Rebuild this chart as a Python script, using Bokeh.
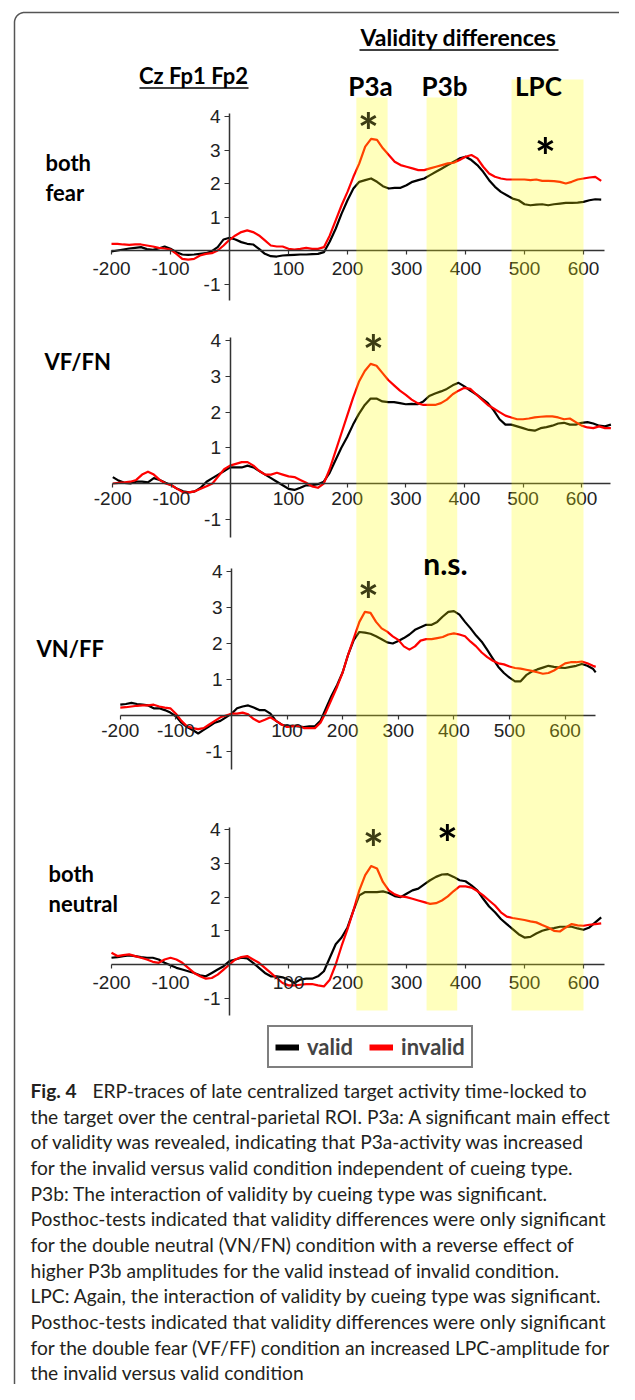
import numpy as np
from bokeh.plotting import figure
from bokeh.models import Range1d, LinearAxis, FixedTicker, Legend, LegendItem
from bokeh.core.properties import value
from bokeh.embed import file_html
from bokeh.resources import INLINE

# ---------------- data ----------------
t_a = list(range(-200, 640, 10))            # panels 1 and 4 (ms)
t_b = list(range(-200, 660, 10))            # panel 2
t_c = list(range(-200, 660, 10)) + [655]    # panel 3

fear_valid = [-0.03, 0.0, 0.03, 0.06, 0.08, 0.1, 0.04, 0.02, 0.06, 0.12,
              0.05, -0.05, -0.12, -0.13, -0.12, -0.1, -0.08, -0.02, 0.1, 0.33,
              0.38, 0.33, 0.25, 0.2, 0.18, 0.05, -0.1, -0.17, -0.18, -0.15,
              -0.14, -0.13, -0.12, -0.12, -0.11, -0.1, -0.05, 0.27, 0.65, 1.1,
              1.5, 1.85, 2.05, 2.1, 2.15, 2.05, 1.92, 1.85, 1.87, 1.87,
              1.95, 2.05, 2.1, 2.15, 2.25, 2.35, 2.45, 2.55, 2.65, 2.75,
              2.8, 2.7, 2.55, 2.35, 2.1, 1.9, 1.75, 1.65, 1.55, 1.5,
              1.38, 1.35, 1.37, 1.38, 1.35, 1.38, 1.4, 1.42, 1.42, 1.43,
              1.45, 1.5, 1.53, 1.52]
fear_invalid = [0.2, 0.2, 0.18, 0.17, 0.18, 0.18, 0.15, 0.12, 0.08, 0.06,
                0.03, -0.1, -0.25, -0.27, -0.25, -0.15, -0.1, -0.08, 0.0, 0.15,
                0.32, 0.45, 0.55, 0.6, 0.55, 0.45, 0.3, 0.15, 0.12, 0.12,
                0.05, 0.03, 0.05, 0.08, 0.05, 0.05, 0.1, 0.45, 0.9, 1.35,
                1.75, 2.2, 2.6, 3.1, 3.33, 3.3, 3.05, 2.85, 2.65, 2.55,
                2.5, 2.45, 2.4, 2.4, 2.45, 2.5, 2.55, 2.6, 2.62, 2.7,
                2.8, 2.85, 2.75, 2.5, 2.3, 2.2, 2.15, 2.12, 2.12, 2.12,
                2.12, 2.1, 2.12, 2.08, 2.08, 2.07, 2.05, 2.0, 2.05, 2.12,
                2.15, 2.18, 2.2, 2.08]

vffn_valid = [0.18, 0.08, 0.02, 0.0, 0.05, 0.05, 0.03, 0.15, 0.1, 0.02,
              -0.05, -0.15, -0.22, -0.25, -0.22, -0.12, 0.05, 0.15, 0.25, 0.35,
              0.45, 0.45, 0.45, 0.5, 0.45, 0.35, 0.25, 0.15, 0.05, -0.05,
              -0.15, -0.18, -0.12, -0.05, -0.05, -0.02, 0.05, 0.3, 0.65, 1.0,
              1.3, 1.65, 1.95, 2.2, 2.38, 2.38, 2.3, 2.28, 2.28, 2.25,
              2.22, 2.23, 2.22, 2.3, 2.45, 2.52, 2.58, 2.65, 2.75, 2.82,
              2.72, 2.6, 2.5, 2.38, 2.25, 2.05, 1.8, 1.65, 1.65, 1.6,
              1.55, 1.5, 1.48, 1.55, 1.58, 1.62, 1.68, 1.7, 1.65, 1.65,
              1.7, 1.72, 1.68, 1.62, 1.6, 1.65]
vffn_invalid = [0.0, 0.02, 0.03, 0.05, 0.1, 0.25, 0.33, 0.25, 0.1, 0.0,
                -0.05, -0.15, -0.25, -0.25, -0.22, -0.15, -0.08, 0.0, 0.2, 0.4,
                0.5, 0.55, 0.6, 0.6, 0.5, 0.35, 0.25, 0.25, 0.3, 0.25,
                0.2, 0.18, 0.1, 0.02, -0.08, -0.12, 0.0, 0.4, 0.9, 1.4,
                1.9, 2.4, 2.85, 3.15, 3.35, 3.3, 3.1, 2.9, 2.75, 2.6,
                2.48, 2.35, 2.25, 2.2, 2.2, 2.2, 2.25, 2.35, 2.5, 2.6,
                2.68, 2.65, 2.5, 2.35, 2.2, 2.1, 2.0, 1.9, 1.85, 1.8,
                1.8, 1.82, 1.85, 1.87, 1.88, 1.88, 1.85, 1.8, 1.82, 1.72,
                1.62, 1.57, 1.55, 1.6, 1.55, 1.55]

vnff_valid = [0.3, 0.32, 0.35, 0.32, 0.3, 0.28, 0.2, 0.2, 0.15, 0.08,
              -0.02, -0.2, -0.32, -0.4, -0.5, -0.4, -0.3, -0.2, -0.15, -0.05,
              0.05, 0.2, 0.25, 0.28, 0.22, 0.15, 0.15, 0.05, -0.15, -0.25,
              -0.3, -0.28, -0.3, -0.32, -0.3, -0.3, -0.15, 0.2, 0.55, 0.85,
              1.2, 1.7, 2.1, 2.32, 2.3, 2.27, 2.2, 2.12, 2.03, 2.0,
              2.07, 2.15, 2.25, 2.38, 2.45, 2.52, 2.52, 2.6, 2.75, 2.88,
              2.9, 2.8, 2.6, 2.42, 2.22, 2.05, 1.82, 1.58, 1.35, 1.18,
              1.05, 0.95, 0.95, 1.12, 1.22, 1.28, 1.33, 1.38, 1.35, 1.33,
              1.32, 1.35, 1.38, 1.43, 1.38, 1.3, 1.2]
vnff_invalid = [0.22, 0.23, 0.25, 0.27, 0.28, 0.28, 0.3, 0.25, 0.22, 0.2,
                0.05, -0.15, -0.3, -0.35, -0.38, -0.35, -0.25, -0.15, -0.05, 0.0,
                0.05, 0.05, 0.08, 0.03, -0.1, -0.18, -0.12, -0.05, -0.15, -0.25,
                -0.32, -0.3, -0.28, -0.35, -0.35, -0.35, -0.2, 0.1, 0.45, 0.8,
                1.2, 1.7, 2.15, 2.6, 2.88, 2.85, 2.6, 2.42, 2.33, 2.2,
                2.1, 1.92, 1.83, 1.92, 2.08, 2.12, 2.12, 2.15, 2.18, 2.25,
                2.28, 2.25, 2.2, 2.05, 1.92, 1.75, 1.62, 1.52, 1.45, 1.42,
                1.36, 1.32, 1.3, 1.27, 1.24, 1.2, 1.16, 1.18, 1.25, 1.35,
                1.45, 1.48, 1.48, 1.5, 1.45, 1.38, 1.35]

neutral_valid = [0.2, 0.22, 0.25, 0.27, 0.25, 0.22, 0.2, 0.2, 0.15, 0.05,
                 -0.02, -0.1, -0.15, -0.2, -0.25, -0.32, -0.35, -0.25, -0.15, -0.05,
                 0.1, 0.15, 0.2, 0.18, 0.05, -0.1, -0.25, -0.35, -0.35, -0.38,
                 -0.45, -0.55, -0.45, -0.42, -0.42, -0.35, -0.2, 0.2, 0.6, 0.8,
                 1.1, 1.6, 2.05, 2.15, 2.15, 2.15, 2.17, 2.12, 2.03, 2.0,
                 2.1, 2.2, 2.25, 2.38, 2.5, 2.6, 2.67, 2.68, 2.6, 2.5,
                 2.47, 2.35, 2.2, 1.95, 1.72, 1.55, 1.35, 1.2, 1.05, 0.9,
                 0.8, 0.82, 0.92, 1.0, 1.05, 1.08, 1.12, 1.12, 1.12, 1.07,
                 1.03, 1.1, 1.25, 1.4]
neutral_invalid = [0.35, 0.25, 0.28, 0.3, 0.25, 0.2, 0.15, 0.08, 0.05, 0.15,
                   0.2, 0.15, 0.05, -0.1, -0.25, -0.35, -0.42, -0.4, -0.3, -0.15,
                   0.0, 0.15, 0.22, 0.25, 0.15, 0.05, -0.1, -0.25, -0.4, -0.55,
                   -0.62, -0.62, -0.6, -0.58, -0.58, -0.62, -0.65, -0.45, 0.0, 0.55,
                   1.05, 1.6, 2.2, 2.65, 2.92, 2.85, 2.45, 2.2, 2.08, 2.02,
                   2.0, 1.95, 1.9, 1.85, 1.8, 1.82, 1.9, 2.02, 2.18, 2.32,
                   2.32, 2.28, 2.18, 2.05, 1.9, 1.75, 1.55, 1.42, 1.38, 1.35,
                   1.32, 1.28, 1.25, 1.17, 1.1, 1.0, 0.98, 1.1, 1.2, 1.16,
                   1.15, 1.18, 1.2, 1.22]

x_ticks = [-200, -100, 100, 200, 300, 400, 500, 600]
x_tick_labels = ["-200", "-100", "100", "200", "300", "400", "500", "600"]
y_ticks = [-1, 1, 2, 3, 4]
y_tick_labels = ["-1", "1", "2", "3", "4"]

band_names = ["P3a", "P3b", "LPC"]
band_start = [215, 334, 478]   # ms (panel-1 time scale)
band_end = [268, 386, 600]

panel_labels = [["both", "fear"], ["VF/FN"], ["VN/FF"], ["both", "neutral"]]
series_names = ["valid", "invalid"]

caption_first = "ERP-traces of late centralized target activity time-locked to"
caption_lines = [
    "the target over the central-parietal ROI. P3a: A significant main effect",
    "of validity was revealed, indicating that P3a-activity was increased",
    "for the invalid versus valid condition independent of cueing type.",
    "P3b: The interaction of validity by cueing type was significant.",
    "Posthoc-tests indicated that validity differences were only significant",
    "for the double neutral (VN/FN) condition with a reverse effect of",
    "higher P3b amplitudes for the valid instead of invalid condition.",
    "LPC: Again, the interaction of validity by cueing type was significant.",
    "Posthoc-tests indicated that validity differences were only significant",
    "for the double fear (VF/FF) condition an increased LPC-amplitude for",
    "the invalid versus valid condition",
]

# ---------------- layout (pixel geometry of the canvas) ----------------
W, H = 619, 1384

panels = [
    dict(t=t_a, v=fear_valid, i=fear_invalid, x0=229, sx=0.59, y0=250, sy=33.5, tend=635,
         lab_x=45, lab_y=[161.5, 191.5], lab_std=7),
    dict(t=t_b, v=vffn_valid, i=vffn_invalid, x0=229.5, sx=0.586, y0=483, sy=35.7, tend=649,
         lab_x=44, lab_y=[360.5], lab_std=4),
    dict(t=t_c, v=vnff_valid, i=vnff_invalid, x0=231, sx=0.556, y0=715, sy=36.0, tend=655,
         lab_x=36, lab_y=[648], lab_std=4),
    dict(t=t_a, v=neutral_valid, i=neutral_invalid, x0=229, sx=0.59, y0=964, sy=33.7, tend=635,
         lab_x=48, lab_y=[873, 903], lab_std=7),
]

p = figure(width=W, height=H, x_range=Range1d(0, W), y_range=Range1d(H, 0),
           x_axis_type=None, y_axis_type=None, toolbar_location=None,
           output_backend="svg", min_border=0, outline_line_color=None,
           background_fill_color="white", border_fill_color="white")

AX = "#333333"
LATO = value("Lato")

# rounded frame of the figure box
r = 10
a1 = np.linspace(np.pi, 1.5 * np.pi, 16)
a2 = np.linspace(1.5 * np.pi, 2 * np.pi, 16)
bx = [14] + list(24 + r * np.cos(a1)) + list(624 + r * np.cos(a2)) + [634]
by = [H + 20] + list(22 + r * np.sin(a1)) + list(22 + r * np.sin(a2)) + [H + 20]
p.line(bx, by, line_color="#555555", line_width=1.5)

for k, P in enumerate(panels, start=1):
    xn, yn = f"x{k}", f"y{k}"
    p.extra_x_ranges[xn] = Range1d(-P["x0"] / P["sx"], (W - P["x0"]) / P["sx"])
    p.extra_y_ranges[yn] = Range1d((P["y0"] - H) / P["sy"], P["y0"] / P["sy"])

    xa = LinearAxis(x_range_name=xn, y_range_name=yn, fixed_location=0,
                    bounds=(-200, P["tend"]), ticker=FixedTicker(ticks=x_ticks),
                    major_label_overrides=dict(zip(x_ticks, x_tick_labels)),
                    axis_line_color=AX, axis_line_width=1.5,
                    major_tick_line_color=AX, major_tick_line_width=1.2,
                    major_tick_in=0, major_tick_out=4, minor_tick_in=0, minor_tick_out=0,
                    major_label_standoff=P["lab_std"],
                    major_label_text_font="Liberation Sans",
                    major_label_text_font_size="19px", major_label_text_color="#222222")
    p.add_layout(xa, "below")
    ya = LinearAxis(x_range_name=xn, y_range_name=yn, fixed_location=0,
                    bounds=(-1.5, 4.08), ticker=FixedTicker(ticks=y_ticks),
                    major_label_overrides=dict(zip(y_ticks, y_tick_labels)),
                    axis_line_color=AX, axis_line_width=1.5,
                    major_tick_line_color=AX, major_tick_line_width=1.2,
                    major_tick_in=0, major_tick_out=5, minor_tick_in=0, minor_tick_out=0,
                    major_label_standoff=4,
                    major_label_text_font="Liberation Sans",
                    major_label_text_font_size="19px", major_label_text_color="#222222")
    p.add_layout(ya, "left")

    p.line(P["t"], P["v"], x_range_name=xn, y_range_name=yn,
           line_color="black", line_width=2.2, line_join="round")
    p.line(P["t"], P["i"], x_range_name=xn, y_range_name=yn,
           line_color="#ff0000", line_width=2.2, line_join="round")

    p.text(x=[P["lab_x"]] * len(P["lab_y"]), y=P["lab_y"], text=panel_labels[k - 1],
           text_font=LATO, text_font_style="bold", text_font_size="22px",
           text_align="left", text_baseline="middle", text_color="black")

# yellow analysis windows, laid over the traces
p.quad(left=band_start, right=band_end, top=[97, 97, 79], bottom=[1010] * 3,
       x_range_name="x1", fill_color="#ffff00", fill_alpha=0.26, line_color=None,
       level="overlay")

# header texts
p.text(x=[458], y=[36.5], text=["Validity differences"], text_font=LATO,
       text_font_style="bold", text_font_size="23px", text_align="center",
       text_baseline="middle", text_color="black", level="overlay")
p.text(x=[193], y=[74.5], text=["Cz Fp1 Fp2"], text_font=LATO,
       text_font_style="bold", text_font_size="22px", text_align="center",
       text_baseline="middle", text_color="black", level="overlay")
p.segment(x0=[359, 139], y0=[49.5, 87.5], x1=[558, 248], y1=[49.5, 87.5],
          line_color="black", line_width=1.5, level="overlay")
p.text(x=[370, 444, 538], y=[85, 85, 85], text=band_names, text_font=LATO,
       text_font_style="bold", text_font_size="26px", text_align="center",
       text_baseline="middle", text_color="black", level="overlay")

# significance markers
ast_size = 50
dy = 0.2 * ast_size
p.text(x=[368, 373, 368, 373], y=[120 + dy, 342 + dy, 589 + dy, 837 + dy],
       text=["*"] * 4, text_font=LATO, text_font_style="bold",
       text_font_size=f"{ast_size}px", text_align="center", text_baseline="middle",
       text_color="#3c3c14", level="overlay")
p.text(x=[545, 447], y=[145 + dy, 832 + dy],
       text=["*"] * 2, text_font=LATO, text_font_style="bold",
       text_font_size=f"{ast_size}px", text_align="center", text_baseline="middle",
       text_color="black", level="overlay")
p.text(x=[445], y=[562], text=["n.s."], text_font=LATO, text_font_style="bold",
       text_font_size="30px", text_align="center", text_baseline="middle",
       text_color="black", level="overlay")

# legend (thick swatches as in the original key)
nan2 = np.array([np.nan, np.nan])
lv = p.line(nan2, nan2, line_color="black", line_width=6)
li = p.line(nan2, nan2, line_color="#ff0000", line_width=6)
legend = Legend(items=[LegendItem(label=series_names[0], renderers=[lv]),
                       LegendItem(label=series_names[1], renderers=[li])],
                orientation="horizontal", location=(267, H - 1068),
                border_line_color="black", border_line_width=2,
                background_fill_color="white", background_fill_alpha=1,
                padding=6, spacing=16, margin=0, glyph_width=24, glyph_height=20,
                label_standoff=8, label_text_font="Lato", label_text_font_style="bold",
                label_text_font_size="22px", label_height=20)
p.add_layout(legend)

# caption
cap_font = "19.2px"
cap_first = 1090
cap_step = 25.67
p.text(x=[30], y=[cap_first], text=["Fig. 4"], text_font=LATO, text_font_style="bold",
       text_font_size=cap_font, text_align="left", text_baseline="middle",
       text_color="#231f20")
p.text(x=[92], y=[cap_first], text=[caption_first], text_font=LATO,
       text_font_size=cap_font, text_align="left", text_baseline="middle",
       text_color="#231f20")
p.text(x=[30] * len(caption_lines),
       y=[cap_first + cap_step * (j + 1) for j in range(len(caption_lines))],
       text=caption_lines, text_font=LATO, text_font_size=cap_font, text_align="left",
       text_baseline="middle", text_color="#231f20")

open("out.html", "w").write(file_html(p, INLINE))
